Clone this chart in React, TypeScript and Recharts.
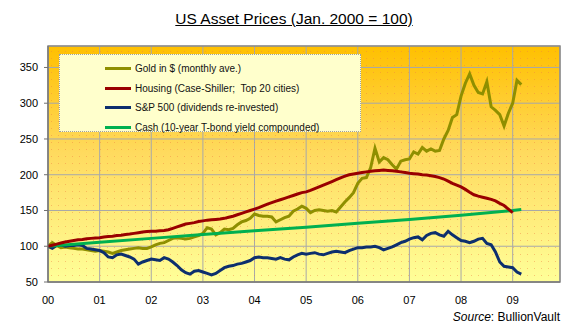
import React from "react";
import {
  CartesianGrid,
  Legend,
  Line,
  LineChart,
  ReferenceArea,
  XAxis,
  YAxis,
} from "recharts";

// x positions are months since Jan 2000
const YEAR_LABELS = ["00", "01", "02", "03", "04", "05", "06", "07", "08", "09"];
const Y_TICKS = [50, 100, 150, 200, 250, 300, 350];

// Gold in $ (monthly ave.), Jan 2000 = 100
const GOLD = [
  100, 105, 101, 98, 99, 98, 97, 96, 96, 95, 94, 93,
  94, 93, 92, 90, 92, 94, 95, 96, 97, 98, 97, 97,
  99, 102, 104, 105, 108, 111, 112, 111, 110, 111, 113, 115,
  118, 126, 124, 116, 119, 124, 123, 125, 130, 134, 136, 139,
  145, 143, 142, 142, 141, 134, 137, 140, 142, 149, 152, 156,
  153, 147, 150, 151, 150, 149, 150, 148, 155, 162, 168, 175,
  188, 195, 196, 210, 237, 218, 224, 221, 214, 208, 219, 221,
  222, 232, 229, 238, 233, 236, 233, 234, 250, 262, 280, 284,
  310, 328, 341, 325, 315, 313, 330, 295, 290, 284, 268, 286,
  300, 332, 326,
];

// Housing (Case-Shiller; Top 20 cities)
const HOUSING = [
  100, 101.5, 103, 104.5, 106, 107, 108, 109, 109.5, 110.5, 111, 111.5,
  112, 113, 113.5, 114, 115, 115.5, 116.5, 117, 118, 119, 120, 120.5,
  121, 121, 121.5, 122, 123, 125, 127, 129, 131, 132, 133, 134.5,
  135.5, 136.5, 137, 137.5, 138, 139, 140.5, 142, 144, 146, 148, 150,
  152, 154, 156.5, 159, 161, 163, 165, 167, 169, 171, 173, 175,
  176, 178, 180.5, 183, 185.5, 188, 190.5, 193, 195.5, 198, 200, 201,
  202, 203, 204, 205, 205.5, 206, 206.5, 206, 205.5, 205, 204, 203,
  202, 201.5, 201, 200, 199.5, 198.5, 197.5, 196, 194, 191, 188, 185.5,
  183, 179.5, 175.5, 172, 170, 168.5, 167, 165.5, 163.5, 160, 157, 152,
  147,
];

// S&P 500 (dividends re-invested)
const SP500 = [
  100, 97, 101, 102, 100, 101, 101, 102, 101, 97, 96, 95,
  94, 91, 85, 84, 88, 89, 87, 85, 82, 75, 78, 80,
  82, 81, 80, 84, 82, 78, 73, 67, 63, 61, 65, 66,
  64, 62, 60, 62, 66, 70, 72, 73, 75, 76, 78, 80,
  84, 85, 84, 84, 83, 82, 84, 82, 81, 85, 88, 90,
  89, 90, 91, 89, 88, 90, 92, 93, 92, 91, 94, 96,
  98, 98, 99, 99, 100, 98, 95, 97, 99, 102, 105, 107,
  110, 112, 113, 109, 115, 118, 119, 116, 114, 121, 116, 112,
  108, 107, 105, 107, 110, 111, 104, 102, 92, 78, 72, 71,
  70, 64, 61,
];

// Cash (10-year T-bond yield compounded), read each January
const CASH_MONTHS = [0, 12, 24, 36, 48, 60, 72, 84, 96, 108, 110];
const CASH = [100, 105.5, 111, 116.5, 121.5, 126.5, 132, 137.5, 143.5, 150, 151.5];

const toPoints = (values: number[], months?: number[]) =>
  values.map((v, i) => ({ m: months ? months[i] : i, v }));

const goldData = toPoints(GOLD);
const housingData = toPoints(HOUSING);
const spData = toPoints(SP500);
const cashData = toPoints(CASH, CASH_MONTHS);

const SERIES = [
  { name: "Gold in $ (monthly ave.)", color: "#8f8f00" },
  { name: "Housing (Case-Shiller;  Top 20 cities)", color: "#990000" },
  { name: "S&P 500 (dividends re-invested)", color: "#0d2f6e" },
  { name: "Cash (10-year T-bond yield compounded)", color: "#00b050" },
];

const FONT = "'Liberation Sans', Arial, sans-serif";

function LegendBox() {
  return (
    <div
      style={{
        width: 302,
        height: 78,
        background: "#ffffcc",
        border: "1px dotted #a0a0a0",
        fontFamily: FONT,
        fontSize: 10,
        color: "#111",
        paddingTop: 4,
        boxSizing: "border-box",
      }}
    >
      {SERIES.map((s) => (
        <div
          key={s.name}
          style={{ display: "flex", alignItems: "center", height: 19.5, paddingLeft: 45 }}
        >
          <span
            style={{ display: "inline-block", width: 26, height: 3, background: s.color, marginRight: 4 }}
          />
          <span style={{ whiteSpace: "pre" }}>{s.name}</span>
        </div>
      ))}
    </div>
  );
}

export default function App() {
  return (
    <div
      style={{
        position: "absolute",
        left: 0,
        top: 0,
        width: 584,
        height: 333,
        background: "#fff",
        fontFamily: FONT,
      }}
    >
      <div
        style={{
          position: "absolute",
          left: 0,
          width: 588,
          top: 10,
          textAlign: "center",
          fontSize: 15.5,
          textDecoration: "underline",
          color: "#000",
        }}
      >
        US Asset Prices (Jan. 2000 = 100)
      </div>
      <LineChart
        width={584}
        height={333}
        margin={{ top: 46, right: 24, bottom: 26, left: 8 }}
      >
        <defs>
          <linearGradient id="plotBg" x1="0" y1="0" x2="0" y2="1">
            <stop offset="0%" stopColor="#ffc000" />
            <stop offset="45%" stopColor="#ffda5e" />
            <stop offset="100%" stopColor="#ffff99" />
          </linearGradient>
          <pattern id="dots" width="7" height="7" patternUnits="userSpaceOnUse">
            <rect x="2" y="2" width="1" height="1" fill="#f08040" fillOpacity={0.45} />
          </pattern>
        </defs>
        <CartesianGrid stroke="#a8a8a8" fill="url(#plotBg)" fillOpacity={1} />
        <XAxis
          type="number"
          dataKey="m"
          domain={[0, 119]}
          ticks={[0, 12, 24, 36, 48, 60, 72, 84, 96, 108]}
          tickFormatter={(m: number) => YEAR_LABELS[Math.round(m / 12)]}
          tick={{ fill: "#000", fontSize: 11 }}
          tickLine={false}
          tickMargin={8}
          stroke="#707070"
          height={25}
          allowDataOverflow
        />
        <YAxis
          domain={[50, 380]}
          ticks={Y_TICKS}
          tick={{ fill: "#000", fontSize: 11 }}
          tickSize={4}
          tickMargin={6}
          stroke="#707070"
          width={40}
          allowDataOverflow
        />
        <ReferenceArea
          x1={0}
          x2={119}
          y1={50}
          y2={380}
          fill="url(#dots)"
          fillOpacity={1}
          stroke="#8c8c8c"
          strokeWidth={1.5}
          ifOverflow="visible"
        />
        <Legend
          layout="vertical"
          align="center"
          verticalAlign="middle"
          content={() => <LegendBox />}
          wrapperStyle={{ left: 59, top: 54, width: 302, height: 78 }}
        />
        <Line
          data={goldData}
          dataKey="v"
          name={SERIES[0].name}
          stroke={SERIES[0].color}
          strokeWidth={3}
          dot={false}
          isAnimationActive={false}
        />
        <Line
          data={spData}
          dataKey="v"
          name={SERIES[2].name}
          stroke={SERIES[2].color}
          strokeWidth={3}
          dot={false}
          isAnimationActive={false}
        />
        <Line
          data={cashData}
          dataKey="v"
          name={SERIES[3].name}
          stroke={SERIES[3].color}
          strokeWidth={3}
          dot={false}
          isAnimationActive={false}
        />
        <Line
          data={housingData}
          dataKey="v"
          name={SERIES[1].name}
          stroke={SERIES[1].color}
          strokeWidth={3}
          dot={false}
          isAnimationActive={false}
        />
      </LineChart>
      <div
        style={{
          position: "absolute",
          right: 24,
          top: 310,
          fontSize: 12,
          color: "#000",
        }}
      >
        <i>Source</i>: BullionVault
      </div>
    </div>
  );
}
